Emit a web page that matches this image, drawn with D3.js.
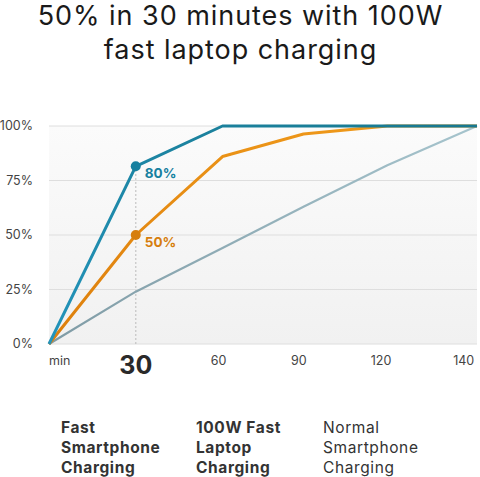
<!DOCTYPE html>
<html><head><meta charset="utf-8">
<script src="https://cdn.jsdelivr.net/npm/d3@7"></script>
<style>
html,body{margin:0;padding:0;background:#fff;}
svg{display:block;font-family:Inter, "Open Sans", sans-serif;}
</style></head>
<body><svg id="c" width="480" height="477"></svg>
<script>
const titleLines = ["50% in 30 minutes with 100W", "fast laptop charging"];
const yTicks = [0, 25, 50, 75, 100];
const xTickValues = [0, 30, 58.6, 86.4, 114.8, 143.4];
const xTickLabels = ["min", "30", "60", "90", "120", "140"];
const seriesNames = ["Fast\nSmartphone\nCharging", "100W Fast\nLaptop\nCharging", "Normal\nSmartphone\nCharging"];
const fastMinutes = [0, 30, 60, 148];
const fastValues = [0, 81.5, 100, 100];
const laptopMinutes = [0, 30, 60, 88, 117, 148];
const laptopValues = [0, 50, 86, 96.3, 100, 100];
const normalMinutes = [0, 30, 60, 88, 117, 148];
const normalValues = [0, 24, 44, 63, 82, 100];
const highlightMinute = 30;
const highlightLabels = ["80%", "50%"];

const svg = d3.select("#c");
const x = d3.scaleLinear().domain([0, 148]).range([49, 477]);
const y = d3.scaleLinear().domain([0, 100]).range([344, 126]);

const defs = svg.append("defs");
function grad(id, c1, c2, x1, y1, x2, y2) {
  const g = defs.append("linearGradient").attr("id", id)
    .attr("x1", x1).attr("y1", y1).attr("x2", x2).attr("y2", y2);
  g.append("stop").attr("offset", "0%").attr("stop-color", c1);
  g.append("stop").attr("offset", "100%").attr("stop-color", c2);
}
grad("bg", "#fbfbfb", "#f1f1f1", 0, 0, 0, 1);
grad("gBlue", "#2394bb", "#17788f", 0, 1, 1, 0);
grad("gOrange", "#dd7f0c", "#f19c1c", 0, 1, 1, 0);
grad("gGray", "#7f9ba5", "#a6c4cd", 0, 1, 1, 0);
grad("sBlue", "#2394bb", "#17788f", 0, 0, 1, 0);
grad("sOrange", "#dd7f0c", "#f19c1c", 0, 0, 1, 0);
grad("sGray", "#7f9ba5", "#a6c4cd", 0, 0, 1, 0);

// title
svg.append("g").selectAll("text").data(titleLines).join("text")
  .attr("x", 240.5).attr("y", (d, i) => 25 + i * 34)
  .attr("text-anchor", "middle").attr("font-size", 27)
  .attr("letter-spacing", 0.95).attr("fill", "#1a1a1a")
  .text(d => d);

// plot background
svg.append("rect").attr("x", x(0)).attr("y", y(100))
  .attr("width", x(148) - x(0)).attr("height", y(0) - y(100))
  .attr("fill", "url(#bg)");

// grid
svg.append("g").selectAll("line").data(yTicks).join("line")
  .attr("x1", x(0)).attr("x2", x(148))
  .attr("y1", d => y(d)).attr("y2", d => y(d))
  .attr("stroke", "#dedede").attr("stroke-width", 1);

// y labels
svg.append("g").selectAll("text").data(yTicks).join("text")
  .attr("x", 33).attr("y", d => y(d)).attr("dy", "0.35em")
  .attr("text-anchor", "end").attr("font-size", 12.5).attr("fill", "#444")
  .text(d => d + "%");

// x labels
svg.append("g").selectAll("text").data(xTickValues).join("text")
  .attr("x", d => x(d))
  .attr("y", (d, i) => i === 1 ? 374 : 365)
  .attr("text-anchor", (d, i) => i === 0 ? "start" : "middle")
  .attr("font-size", (d, i) => i === 1 ? 25 : 12.5)
  .attr("font-weight", (d, i) => i === 1 ? 700 : 400)
  .attr("fill", (d, i) => i === 1 ? "#2a2a2a" : "#444")
  .text((d, i) => xTickLabels[i]);

// dotted guide
svg.append("line").attr("x1", x(highlightMinute)).attr("x2", x(highlightMinute))
  .attr("y1", y(fastValues[1])).attr("y2", y(0))
  .attr("stroke", "#b9b9b9").attr("stroke-width", 1.3).attr("stroke-dasharray", "1.5,2.5");

const line = d3.line().x(d => x(d[0])).y(d => y(d[1]));
const series = [
  {m: normalMinutes, v: normalValues, stroke: "url(#gGray)", w: 2.2},
  {m: laptopMinutes, v: laptopValues, stroke: "url(#gOrange)", w: 3},
  {m: fastMinutes, v: fastValues, stroke: "url(#gBlue)", w: 3}
];
svg.append("g").selectAll("path").data(series).join("path")
  .attr("d", s => line(s.m.map((m, i) => [m, s.v[i]])))
  .attr("fill", "none").attr("stroke", s => s.stroke).attr("stroke-width", s => s.w)
  .attr("stroke-linejoin", "round");

// highlight markers
const marks = [
  {v: fastValues[1], c: "#17809f", lab: highlightLabels[0]},
  {v: laptopValues[1], c: "#d67e0d", lab: highlightLabels[1]}
];
svg.append("g").selectAll("circle").data(marks).join("circle")
  .attr("cx", x(highlightMinute)).attr("cy", d => y(d.v)).attr("r", 5)
  .attr("fill", d => d.c);
svg.append("g").selectAll("text").data(marks).join("text")
  .attr("x", x(highlightMinute) + 9).attr("y", d => y(d.v) + 12)
  .attr("font-size", 13.5).attr("font-weight", 700).attr("fill", d => d.c)
  .text(d => d.lab);

// legend
const legendX = [61, 196, 323];
const swatch = ["url(#sBlue)", "url(#sOrange)", "url(#sGray)"];
const lg = svg.append("g").selectAll("g").data(seriesNames).join("g")
  .attr("transform", (d, i) => `translate(${legendX[i]},0)`);
lg.append("line").attr("x1", 1.5).attr("x2", 28.5).attr("y1", 403).attr("y2", 403)
  .attr("stroke", (d, i) => swatch[i]).attr("stroke-width", 4.5).attr("stroke-linecap", "round");
lg.each(function(d, i) {
  d3.select(this).selectAll("text").data(d.split("\n")).join("text")
    .attr("x", 0).attr("y", (t, j) => 432.5 + j * 20)
    .attr("font-size", 15.5).attr("font-weight", i < 2 ? 700 : 400)
    .attr("letter-spacing", 0.6)
    .attr("fill", "#333").text(t => t);
});
</script></body></html>
